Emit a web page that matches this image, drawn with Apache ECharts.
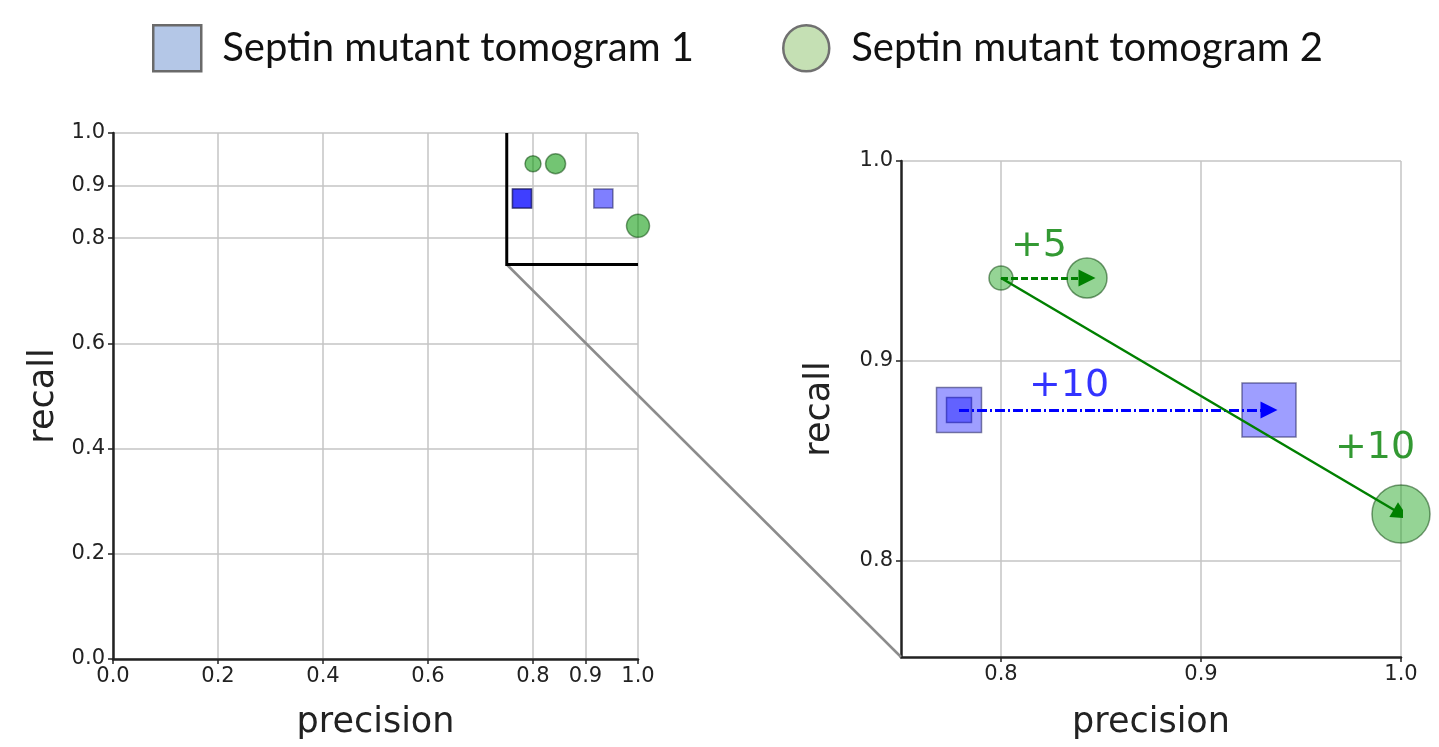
<!DOCTYPE html>
<html><head><meta charset="utf-8">
<script src="https://cdn.jsdelivr.net/npm/echarts@6/dist/echarts.min.js"></script>
<style>html,body{margin:0;padding:0;background:#fff}#c{width:1439px;height:747px}</style>
</head><body><div id="c"></div>
<script>
// ---- data ----
const seriesNames = ['Septin mutant tomogram 1', 'Septin mutant tomogram 2'];
const steps = ['0', '+5', '+10'];
const t1Precision = [0.779, 0.779, 0.934];
const t1Recall = [0.8755, 0.8755, 0.8755];
const t2Precision = [0.800, 0.843, 1.000];
const t2Recall = [0.9415, 0.9415, 0.8235];
const fullTicks = [0.0, 0.2, 0.4, 0.6, 0.8, 0.9, 1.0];
const zoomTicks = [0.8, 0.9, 1.0];
const fullRange = [0, 1];
const zoomRange = [0.75, 1.0];
const axisNames = ['precision', 'recall'];
// arrows: [series index, from step index, to step index]
const arrows = [[0, 0, 2], [1, 0, 1], [1, 0, 2]];

// ---- styles ----
const zoomYMin = 0.752;
const leftSizes = [[19, 19, 19], [16, 20, 23]];
const rightSizes = [[25, 45, 54], [24, 40, 58]];
const leftFill = ['rgba(0,0,255,0.5)', 'rgba(0,150,0,0.55)'];
const rightFill = ['rgba(0,0,255,0.38)', 'rgba(20,160,20,0.45)'];
const edge = ['rgba(30,30,90,0.55)', 'rgba(0,60,0,0.5)'];
const shapes = ['rect', 'circle'];
const arrowColor = ['#0000ff', '#008000'];
const arrowType = [[[10, 3, 2, 3]], [[7, 3], 'solid']];
const labelOffsets = [[[-45, -24]], [[-48, -32], [-26, -66]]];
const FONT = 'DejaVu Sans';

const tomo = [
  { p: t1Precision, r: t1Recall },
  { p: t2Precision, r: t2Recall }
];
function pts(i) { return tomo[i].p.map((p, k) => [p, tomo[i].r[k]]); }

function mkX(gi, min, max, ticks, gap) {
  return {
    type: 'value', gridIndex: gi, min: min, max: max,
    name: axisNames[0], nameLocation: 'middle', nameGap: gap,
    nameTextStyle: { fontFamily: FONT, fontSize: 35, color: '#222' },
    axisLine: { show: true, onZero: false, lineStyle: { color: '#222', width: 2.5 } },
    axisTick: { show: true, customValues: ticks, length: 5, lineStyle: { color: '#222', width: 1.5 } },
    axisLabel: { customValues: ticks, formatter: v => (+v).toFixed(1), fontFamily: FONT, fontSize: 21, color: '#222', margin: 7 },
    splitLine: { show: true, lineStyle: { color: '#c4c4c4', width: 1.5 } }
  };
}
function mkY(gi, min, max, ticks, gap) {
  const a = mkX(gi, min, max, ticks, gap);
  a.name = axisNames[1];
  a.axisLabel.margin = 8;
  return a;
}

const series = [];
// inset frame on left panel
series.push({
  type: 'lines', coordinateSystem: 'cartesian2d', xAxisIndex: 0, yAxisIndex: 0,
  polyline: true, silent: true, z: 3,
  lineStyle: { color: '#000', width: 3, opacity: 1 },
  data: [{ coords: [[zoomRange[0], zoomRange[1]], [zoomRange[0], zoomRange[0]], [zoomRange[1], zoomRange[0]]] }]
});

[0, 1].forEach(i => {
  series.push({
    name: seriesNames[i], type: 'scatter', xAxisIndex: 0, yAxisIndex: 0, z: 4,
    symbol: shapes[i],
    symbolSize: (v, p) => leftSizes[i][p.dataIndex],
    itemStyle: { color: leftFill[i], borderColor: edge[i], borderWidth: 1.5, opacity: 1 },
    data: pts(i)
  });
  series.push({
    name: seriesNames[i], type: 'scatter', xAxisIndex: 1, yAxisIndex: 1, z: 4,
    symbol: shapes[i],
    symbolSize: (v, p) => rightSizes[i][p.dataIndex],
    itemStyle: { color: rightFill[i], borderColor: edge[i], borderWidth: 1.5, opacity: 1 },
    data: pts(i)
  });
});

// arrows on right panel
const arrowCount = [0, 0];
arrows.forEach(([si, a, b]) => {
  const P = pts(si);
  const k = arrowCount[si]++;
  const lt = arrowType[si][k];
  series.push({
    type: 'lines', coordinateSystem: 'cartesian2d', xAxisIndex: 1, yAxisIndex: 1, z: 6, silent: true,
    symbol: ['none', 'triangle'], symbolSize: [1, 17],
    lineStyle: { color: arrowColor[si], width: lt === 'solid' ? 2.5 : 3, type: lt, opacity: 1 },
    data: [{ coords: [P[a], P[b]] }]
  });
  series.push({
    type: 'scatter', xAxisIndex: 1, yAxisIndex: 1, z: 7, silent: true,
    symbolSize: 0,
    itemStyle: { color: arrowColor[si] },
    label: {
      show: true, formatter: steps[b], position: 'inside',
      fontFamily: FONT, fontSize: 38, color: arrowColor[si],
      textBorderWidth: 0, textBorderColor: 'transparent',
      offset: labelOffsets[si][k]
    },
    data: [si === 0 ? [(P[a][0] + P[b][0]) / 2, P[a][1]] : P[b]]
  });
});

const chart = echarts.init(document.getElementById('c'), null, { renderer: 'canvas' });
chart.setOption({
  animation: false,
  backgroundColor: '#fff',
  legend: {
    left: 147, top: 19, itemWidth: 48, itemHeight: 46, itemGap: 88, selectedMode: false,
    textStyle: { fontFamily: 'Lato', fontSize: 40, color: '#111', padding: [0, 0, 0, 16] },
    data: [
      { name: seriesNames[0], icon: 'rect', itemStyle: { color: '#b4c7e7', borderColor: '#6a6a6a', borderWidth: 2.5 } },
      { name: seriesNames[1], icon: 'circle', itemStyle: { color: '#c5e0b4', borderColor: '#707070', borderWidth: 2.5 } }
    ]
  },
  grid: [
    { left: 113, top: 133, width: 525, height: 526 },
    { left: 901, top: 161, width: 500, height: 496 }
  ],
  xAxis: [mkX(0, fullRange[0], fullRange[1], fullTicks, 46), mkX(1, zoomRange[0], zoomRange[1], zoomTicks, 48)],
  yAxis: [mkY(0, fullRange[0], fullRange[1], fullTicks, 52), mkY(1, zoomYMin, zoomRange[1], zoomTicks, 64)],
  series: series
});

const p1 = chart.convertToPixel({ gridIndex: 0 }, [zoomRange[0], zoomRange[0]]);
const p2 = chart.convertToPixel({ gridIndex: 1 }, [zoomRange[0], zoomYMin]);
chart.setOption({
  graphic: [{
    type: 'line', silent: true, z: 1,
    shape: { x1: p1[0], y1: p1[1], x2: p2[0], y2: p2[1] },
    style: { stroke: '#8c8c8c', lineWidth: 2.5 }
  }]
});
</script></body></html>
